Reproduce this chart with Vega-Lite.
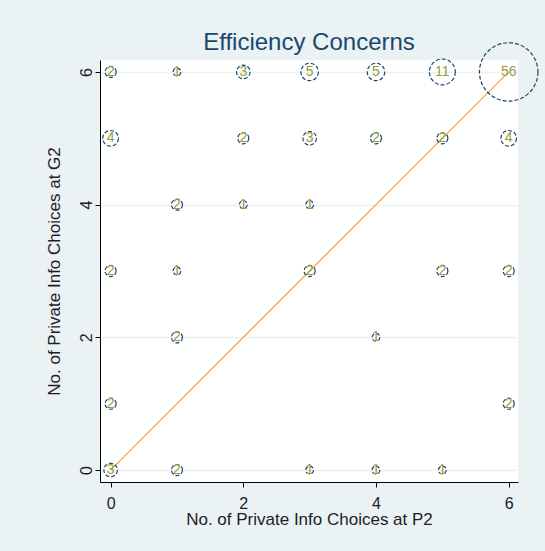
{
  "$schema": "https://vega.github.io/schema/vega-lite/v6.json",
  "width": 418,
  "height": 422,
  "autosize": {"type": "none"},
  "padding": {"left": 100, "top": 60, "right": 27, "bottom": 69},
  "background": "#eaf2f3",
  "view": {"fill": "white", "stroke": null},
  "title": {
    "text": "Efficiency Concerns",
    "font": "Liberation Sans",
    "fontSize": 24,
    "fontWeight": "normal",
    "color": "#1a476f",
    "offset": 6,
    "dy": 21
  },
  "datasets": {
    "pts": [
      {"p2": 0, "g2": 6, "n": 2}, {"p2": 1, "g2": 6, "n": 1}, {"p2": 2, "g2": 6, "n": 3},
      {"p2": 3, "g2": 6, "n": 5}, {"p2": 4, "g2": 6, "n": 5}, {"p2": 5, "g2": 6, "n": 11},
      {"p2": 6, "g2": 6, "n": 56},
      {"p2": 0, "g2": 5, "n": 4}, {"p2": 2, "g2": 5, "n": 2}, {"p2": 3, "g2": 5, "n": 3},
      {"p2": 4, "g2": 5, "n": 2}, {"p2": 5, "g2": 5, "n": 2}, {"p2": 6, "g2": 5, "n": 4},
      {"p2": 1, "g2": 4, "n": 2}, {"p2": 2, "g2": 4, "n": 1}, {"p2": 3, "g2": 4, "n": 1},
      {"p2": 0, "g2": 3, "n": 2}, {"p2": 1, "g2": 3, "n": 1}, {"p2": 3, "g2": 3, "n": 2},
      {"p2": 5, "g2": 3, "n": 2}, {"p2": 6, "g2": 3, "n": 2},
      {"p2": 1, "g2": 2, "n": 2}, {"p2": 4, "g2": 2, "n": 1},
      {"p2": 0, "g2": 1, "n": 2}, {"p2": 6, "g2": 1, "n": 2},
      {"p2": 0, "g2": 0, "n": 3}, {"p2": 1, "g2": 0, "n": 2}, {"p2": 3, "g2": 0, "n": 1},
      {"p2": 4, "g2": 0, "n": 1}, {"p2": 5, "g2": 0, "n": 1}
    ],
    "diag": [{"p2": 0, "g2": 0}, {"p2": 6, "g2": 6}]
  },
  "encoding": {
    "x": {
      "field": "p2", "type": "quantitative",
      "scale": {"domain": [-0.16, 6.14], "nice": false, "zero": false},
      "axis": {
        "title": "No. of Private Info Choices at P2",
        "values": [0, 2, 4, 6], "grid": false,
        "domainColor": "#000000", "tickColor": "#000000", "tickSize": 5,
        "labelFont": "Liberation Sans", "labelFontSize": 16, "labelColor": "#1c1c2e",
        "labelPadding": 8,
        "titleFont": "Liberation Sans", "titleFontSize": 17, "titleFontWeight": "normal",
        "titleColor": "#1c1c2e", "titlePadding": 0
      }
    },
    "y": {
      "field": "g2", "type": "quantitative",
      "scale": {"domain": [-0.18, 6.18], "nice": false, "zero": false},
      "axis": {
        "title": "No. of Private Info Choices at G2",
        "values": [0, 2, 4, 6], "grid": true, "gridColor": "#eaf2f3", "gridWidth": 1.5,
        "domainColor": "#000000", "tickColor": "#000000", "tickSize": 5,
        "labelFont": "Liberation Sans", "labelFontSize": 16, "labelColor": "#1c1c2e",
        "labelAngle": -90, "labelAlign": "center", "labelBaseline": "bottom", "labelPadding": 1,
        "titleFont": "Liberation Sans", "titleFontSize": 17, "titleFontWeight": "normal",
        "titleColor": "#1c1c2e", "titlePadding": 15
      }
    }
  },
  "layer": [
    {
      "data": {"name": "diag"},
      "mark": {"type": "line", "color": "#f0a040", "strokeWidth": 1.2, "clip": false},
      "encoding": {}
    },
    {
      "data": {"name": "pts"},
      "mark": {"type": "point", "shape": "circle", "filled": false, "color": "#1a476f",
               "strokeWidth": 1.2, "strokeDash": [4, 2], "opacity": 1},
      "encoding": {
        "size": {"field": "n", "type": "quantitative",
                 "scale": {"type": "linear", "domain": [0, 56], "range": [0, 3420], "zero": true},
                 "legend": null}
      }
    },
    {
      "data": {"name": "pts"},
      "mark": {"type": "text", "font": "Liberation Sans", "fontSize": 14, "color": "#9a9a3c",
               "align": "center", "baseline": "middle"},
      "encoding": {"text": {"field": "n", "type": "quantitative"}}
    }
  ]
}
